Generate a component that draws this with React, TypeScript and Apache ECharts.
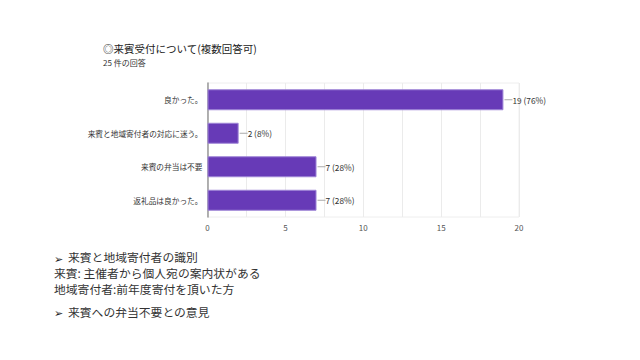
import React, { useEffect, useRef } from "react";
import * as echarts from "echarts";

const categories = ["良かった。", "来賓と地域寄付者の対応に迷う。", "来賓の弁当は不要", "返礼品は良かった。"];
const counts = [19, 2, 7, 7];
const totalResponses = 25;
const titleText = "◎来賓受付について(複数回答可)";
const subtitleText = "25 件の回答";
const bulletGlyph = "➢";
const noteLines = [
  "来賓と地域寄付者の識別",
  "来賓: 主催者から個人宛の案内状がある",
  "地域寄付者:前年度寄付を頂いた方",
  "来賓への弁当不要との意見",
];

const FONT = "'Noto Sans CJK JP', 'Noto Sans', sans-serif";

export default function App() {
  const ref = useRef<HTMLDivElement>(null);
  useEffect(() => {
    if (!ref.current) return;
    const chart = echarts.init(ref.current, undefined, { renderer: "svg" });
    const noteStyle = (text: string) => ({
      text,
      fontSize: 11.8,
      lineHeight: 14,
      fill: "#333",
      fontFamily: FONT,
    });
    chart.setOption({
      animation: false,
      backgroundColor: "#ffffff",
      textStyle: { fontFamily: FONT },
      grid: {
        left: 207.5,
        right: 121,
        top: 83,
        bottom: 143,
        show: true,
        borderColor: "#eeeeee",
        borderWidth: 1,
      },
      xAxis: {
        type: "value",
        min: 0,
        max: 20,
        interval: 5,
        axisLine: { show: false },
        axisTick: { show: false },
        axisLabel: { color: "#555", fontSize: 8, margin: 6, fontFamily: FONT },
        splitLine: { show: true, lineStyle: { color: "#ebebeb", width: 1 } },
        minorTick: { show: false, splitNumber: 2 },
        minorSplitLine: { show: true, lineStyle: { color: "#ebebeb", width: 1 } },
      },
      yAxis: {
        type: "category",
        data: categories,
        inverse: true,
        axisLine: { show: true, lineStyle: { color: "#999", width: 1.5 } },
        axisTick: { show: false },
        axisLabel: { color: "#333", fontSize: 7.7, margin: 5, fontFamily: FONT },
        splitLine: { show: false },
      },
      series: [
        {
          type: "bar",
          data: counts,
          barWidth: 21,
          itemStyle: { color: "#673ab7", borderColor: "#9e85d6", borderWidth: 1 },
          label: {
            show: true,
            position: "right",
            distance: 1,
            formatter: (p: any) =>
              `{ln|}{v|${p.value} (${Math.round((p.value / totalResponses) * 100)}%)}`,
            rich: {
              ln: { width: 8, height: 1, backgroundColor: "#aaa", verticalAlign: "middle" },
              v: { fontSize: 8.3, color: "#333", fontFamily: FONT, verticalAlign: "middle" },
            },
          },
        },
      ],
      graphic: [
        {
          type: "text",
          left: 103,
          top: 43,
          style: { text: titleText, fontSize: 10.5, fill: "#222", fontFamily: FONT },
        },
        {
          type: "text",
          left: 103,
          top: 58.5,
          style: { text: subtitleText, fontSize: 8, fill: "#333", fontFamily: FONT },
        },
        { type: "text", left: 54, top: 250.5, style: { ...noteStyle(bulletGlyph), fontSize: 11, fill: "#222" } },
        { type: "text", left: 68, top: 249.5, style: noteStyle(noteLines[0]) },
        { type: "text", left: 54, top: 265.5, style: noteStyle(noteLines[1]) },
        { type: "text", left: 54, top: 281.5, style: noteStyle(noteLines[2]) },
        { type: "text", left: 54, top: 305, style: { ...noteStyle(bulletGlyph), fontSize: 11, fill: "#222" } },
        { type: "text", left: 68, top: 304.5, style: noteStyle(noteLines[3]) },
      ],
    });
    return () => chart.dispose();
  }, []);
  return <div ref={ref} style={{ width: 640, height: 360, position: "fixed", left: 0, top: 0 }} />;
}
